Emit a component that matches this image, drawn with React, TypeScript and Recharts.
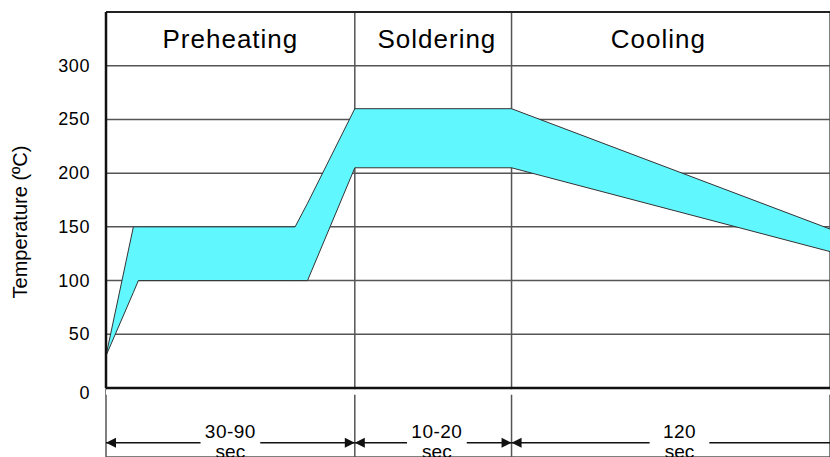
import {
  Area,
  CartesianGrid,
  ComposedChart,
  ReferenceArea,
  ReferenceDot,
  ReferenceLine,
  XAxis,
  YAxis,
} from "recharts";

// band of the reflow profile (time in arbitrary units, temperature in ºC)
const timePoints = [0, 11, 13, 76, 81, 100, 163, 291];
const lowerTemps = [30, 89, 100, 100, 100, 205, 205, 127];
const upperTemps = [30, 150, 150, 150, 172, 260, 260, 148];

const phaseNames = ["Preheating", "Soldering", "Cooling"];
const phaseStarts = [0, 100, 163];
const phaseEnds = [100, 163, 300];
const phaseNameCenters = [50, 133, 222];

const durationLabels = ["30-90", "10-20", "120"];
const durationCenters = [50, 133, 230.5];

const tempTicks = [0, 50, 100, 150, 200, 250, 300];
const boundaryTicks = [0, 100, 163];

const TOP_TEMP = 350;
const BOTTOM_TEMP = -64.2;
const DIM_TEMP = -51;
const TITLE_TEMP = 325;
const GAP = 12;

const FONT = '"Liberation Sans", Arial, Helvetica, sans-serif';
const INK = "#111";

const data = timePoints.map((t, i) => ({ t, band: [lowerTemps[i], upperTemps[i]] }));

function arrowShape(side: "start" | "end") {
  return (props: any) => {
    const { x1, y1, x2, y2 } = props;
    const tip = side === "start" ? x1 : x2;
    const dir = side === "start" ? 1 : -1;
    return (
      <g>
        <line x1={x1} y1={y1} x2={x2} y2={y2} stroke={INK} strokeWidth={1.5} />
        <polygon
          points={`${tip},${y1} ${tip + dir * 10},${y1 - 5} ${tip + dir * 10},${y1 + 5}`}
          fill={INK}
        />
      </g>
    );
  };
}

function titleShape(name: string) {
  return (props: any) => (
    <text
      x={props.cx}
      y={props.cy}
      dy={9}
      textAnchor="middle"
      fontSize={26}
      letterSpacing={1}
      fontFamily={FONT}
      fill="#000"
    >
      {name}
    </text>
  );
}

function durationShape(label: string) {
  return (props: any) => (
    <g fontFamily={FONT} fontSize={19} fill="#000" textAnchor="middle">
      <text x={props.cx} y={props.cy} dy={-5} letterSpacing={0.5}>
        {label}
      </text>
      <text x={props.cx} y={props.cy} dy={15}>
        sec
      </text>
    </g>
  );
}

function TempTick(props: any) {
  const { x, y, payload } = props;
  return (
    <text
      x={x}
      y={y}
      dy={payload.value === 0 ? 11 : 6}
      textAnchor="end"
      fontSize={18}
      letterSpacing={0.6}
      fontFamily={FONT}
      fill="#000"
    >
      {payload.value}
    </text>
  );
}

export default function App() {
  return (
    <div style={{ position: "absolute", left: 0, top: 0, background: "#fff" }}>
      <ComposedChart
        width={830}
        height={457}
        data={data}
        margin={{ top: 12, right: 0, bottom: 0, left: 0 }}
      >
        <CartesianGrid stroke="#555" strokeWidth={1.5} />
        <XAxis
          type="number"
          dataKey="t"
          domain={[0, 291]}
          ticks={boundaryTicks}
          allowDataOverflow
          hide
        />
        <YAxis
          type="number"
          domain={[BOTTOM_TEMP, TOP_TEMP]}
          ticks={tempTicks}
          allowDataOverflow
          width={106}
          axisLine={false}
          tickLine={false}
          tickMargin={10}
          tick={<TempTick />}
          label={{
            content: () => (
              <text
                x={27}
                y={222}
                transform="rotate(-90, 27, 222)"
                textAnchor="middle"
                fontSize={20}
                fontFamily={FONT}
                fill="#000"
              >
                Temperature (ºC)
              </text>
            ),
          }}
        />
        <ReferenceArea y1={-1.2} y2={-6.3} fill="#fff" fillOpacity={1} stroke="none" />
        <Area
          type="linear"
          dataKey="band"
          stroke="#333"
          strokeWidth={1}
          fill="#61F7FF"
          fillOpacity={1}
          isAnimationActive={false}
        />
        <ReferenceLine y={TOP_TEMP} stroke="#222" strokeWidth={2} />
        <ReferenceLine y={0} stroke={INK} strokeWidth={2.5} />
        <ReferenceLine
          segment={[
            { x: 0, y: 0 },
            { x: 0, y: TOP_TEMP },
          ]}
          stroke={INK}
          strokeWidth={2.5}
        />
        {phaseNames.map((name, i) => (
          <ReferenceDot
            key={name}
            x={phaseNameCenters[i]}
            y={TITLE_TEMP}
            shape={titleShape(name)}
          />
        ))}
        {durationLabels.map((label, i) => (
          <ReferenceLine
            key={label + "-l"}
            segment={[
              { x: phaseStarts[i], y: DIM_TEMP },
              { x: durationCenters[i] - GAP, y: DIM_TEMP },
            ]}
            ifOverflow="visible"
            shape={arrowShape("start")}
          />
        ))}
        {durationLabels.map((label, i) => (
          <ReferenceLine
            key={label + "-r"}
            segment={[
              { x: durationCenters[i] + GAP, y: DIM_TEMP },
              { x: phaseEnds[i], y: DIM_TEMP },
            ]}
            ifOverflow="visible"
            shape={arrowShape("end")}
          />
        ))}
        {durationLabels.map((label, i) => (
          <ReferenceDot
            key={label}
            x={durationCenters[i]}
            y={DIM_TEMP}
            shape={durationShape(label)}
          />
        ))}
      </ComposedChart>
    </div>
  );
}
